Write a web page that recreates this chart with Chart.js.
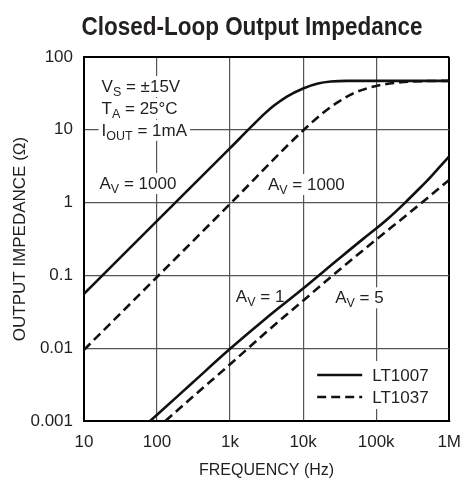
<!DOCTYPE html>
<html>
<head>
<meta charset="utf-8">
<script src="https://cdn.jsdelivr.net/npm/chart.js@4.4.0/dist/chart.umd.min.js"></script>
<style>
  html, body { margin: 0; padding: 0; background: #fff; }
</style>
</head>
<body>
<canvas id="zChart" width="472" height="481"></canvas>
<script>
// --- data ---
const xTickValues = [10, 100, 1000, 10000, 100000, 1000000];
const xTickLabels = ['10', '100', '1k', '10k', '100k', '1M'];
const yTickValues = [0.001, 0.01, 0.1, 1, 10, 100];
const yTickLabels = ['0.001', '0.01', '0.1', '1', '10', '100'];

// LT1007, Av = 1000 (solid)
const lt1007Av1000Freq = [10, 100, 1000, 2000, 3000, 4000, 6000, 10000, 16000, 24000, 40000, 100000, 1000000];
const lt1007Av1000Z = [0.056, 0.56, 5.6, 11.3, 16.8, 21.5, 28.6, 37, 43.3, 46, 47, 47, 47];
// LT1037, Av = 1000 (dashed)
const lt1037Av1000Freq = [10, 100, 1000, 10000, 20000, 30000, 50000, 100000, 200000, 500000, 1000000];
const lt1037Av1000Z = [0.0095, 0.095, 0.96, 9.8, 18, 24, 32, 40, 44.5, 46.7, 47];
// LT1007, Av = 1 (solid)
const lt1007Av1Freq = [80, 100, 300, 1000, 3000, 10000, 30000, 67000, 100000, 150000, 250000, 350000, 500000, 700000, 1000000];
const lt1007Av1Z = [0.001, 0.00122, 0.0033, 0.0098, 0.025, 0.066, 0.165, 0.32, 0.44, 0.62, 1.0, 1.4, 2.0, 2.9, 4.3];
// LT1037, Av = 5 (dashed)
const lt1037Av5Freq = [130, 300, 1000, 3000, 10000, 30000, 100000, 250000, 500000, 1000000];
const lt1037Av5Z = [0.001, 0.0021, 0.006, 0.016, 0.045, 0.115, 0.31, 0.65, 1.15, 2.05];

// annotation text, anchored (left, middle) in data units
const noteTexts = ['V_{S} = ±15V', 'T_{A} = 25°C', 'I_{OUT} = 1mA', 'A_{V} = 1000', 'A_{V} = 1000', 'A_{V} = 1', 'A_{V} = 5'];
const noteFreq = [17.4, 17.4, 17.4, 16.3, 3300, 1200, 27500];
const noteZ = [40, 20, 10, 1.86, 1.8, 0.052, 0.05];

const legendLabels = ['LT1007', 'LT1037'];

const INK = '#231f20';
const GRID = '#555';
const FONT = '"Liberation Sans", Arial, sans-serif';

function pts(fs, zs) {
    return fs.map((f, i) => ({ x: f, y: zs[i] }));
}

// splits 'V_{S} = x' into normal / subscript pieces
function pieces(txt) {
    const out = [];
    const re = /_\{([^}]*)\}/g;
    let last = 0, m;
    while ((m = re.exec(txt)) !== null) {
        if (m.index > last) out.push({ t: txt.slice(last, m.index), sub: false });
        out.push({ t: m[1], sub: true });
        last = re.lastIndex;
    }
    if (last < txt.length) out.push({ t: txt.slice(last), sub: false });
    return out;
}

function drawRichText(ctx, txt, x, cy) {
    const parts = pieces(txt);
    const mainFont = '17px ' + FONT;
    const subFont = '12.5px ' + FONT;
    let w = 0;
    parts.forEach(p => { ctx.font = p.sub ? subFont : mainFont; p.w = ctx.measureText(p.t).width; w += p.w; });
    ctx.fillStyle = '#fff';
    ctx.fillRect(x - 3, cy - 10, w + 6, 21);
    ctx.fillStyle = INK;
    ctx.textBaseline = 'alphabetic';
    ctx.textAlign = 'left';
    const base = cy + 6;
    let cx = x;
    parts.forEach(p => {
        ctx.font = p.sub ? subFont : mainFont;
        ctx.fillText(p.t, cx, p.sub ? base + 4 : base);
        cx += p.w;
    });
}

const notesPlugin = {
    id: 'notes',
    beforeDatasetsDraw(chart) {
        const { ctx, scales: { x, y } } = chart;
        ctx.save();
        noteTexts.forEach((t, i) => {
            drawRichText(ctx, t, x.getPixelForValue(noteFreq[i]), y.getPixelForValue(noteZ[i]));
        });
        // legend box
        const a = chart.chartArea;
        ctx.fillStyle = '#fff';
        ctx.fillRect(a.right - 139, a.bottom - 60, 127, 48);
        ctx.strokeStyle = '#111';
        ctx.lineWidth = 2.6;
        [[], [9, 5]].forEach((dash, i) => {
            const ly = a.bottom - 46 + i * 22;
            ctx.setLineDash(dash);
            ctx.beginPath();
            ctx.moveTo(a.right - 132, ly);
            ctx.lineTo(a.right - 87, ly);
            ctx.stroke();
            ctx.setLineDash([]);
            ctx.fillStyle = INK;
            ctx.font = '17px ' + FONT;
            ctx.textBaseline = 'middle';
            ctx.fillText(legendLabels[i], a.right - 77, ly + 1);
        });
        ctx.restore();
    },
    afterDraw(chart) {
        // condensed bold title, squeezed to the datasheet's width
        const ctx = chart.ctx;
        const title = 'Closed-Loop Output Impedance';
        ctx.save();
        ctx.fillStyle = INK;
        ctx.font = 'bold 25px ' + FONT;
        ctx.textAlign = 'center';
        ctx.textBaseline = 'middle';
        const sx = 341 / ctx.measureText(title).width;
        ctx.translate(252, 28);
        ctx.scale(sx, 1);
        ctx.fillText(title, 0, 0);
        ctx.restore();
    }
};

function edgeColor(limit) {
    return c => (c.tick && c.tick.value === limit) ? '#000' : GRID;
}
function edgeWidth(limit) {
    return c => (c.tick && c.tick.value === limit) ? 2 : 1.2;
}

const lineBase = { borderColor: '#111', borderWidth: 2.6, pointRadius: 0, tension: 0.4, cubicInterpolationMode: 'monotone', fill: false };

new Chart(document.getElementById('zChart').getContext('2d'), {
    type: 'line',
    data: {
        datasets: [
            Object.assign({ label: 'LT1007 Av=1000', data: pts(lt1007Av1000Freq, lt1007Av1000Z) }, lineBase),
            Object.assign({ label: 'LT1037 Av=1000', data: pts(lt1037Av1000Freq, lt1037Av1000Z), borderDash: [9, 5] }, lineBase),
            Object.assign({ label: 'LT1007 Av=1', data: pts(lt1007Av1Freq, lt1007Av1Z) }, lineBase),
            Object.assign({ label: 'LT1037 Av=5', data: pts(lt1037Av5Freq, lt1037Av5Z), borderDash: [9, 5] }, lineBase)
        ]
    },
    options: {
        responsive: false,
        animation: false,
        layout: { padding: { top: 57, right: 13, bottom: 0, left: 0 } },
        plugins: { legend: { display: false }, tooltip: { enabled: false } },
        scales: {
            x: {
                type: 'logarithmic',
                min: 10, max: 1000000,
                afterBuildTicks: ax => { ax.ticks = xTickValues.map(v => ({ value: v })); },
                afterFit: ax => { ax.height = 60; },
                ticks: {
                    autoSkip: false, maxRotation: 0, padding: 11, color: INK,
                    font: { family: FONT, size: 17 },
                    callback: (v, i) => xTickLabels[i]
                },
                grid: { drawTicks: false, color: edgeColor(1000000), lineWidth: edgeWidth(1000000) },
                border: { color: '#000', width: 2 },
                title: { display: true, text: 'FREQUENCY (Hz)', color: INK, font: { family: FONT, size: 16 }, padding: { top: 0, bottom: 1 } }
            },
            y: {
                type: 'logarithmic',
                min: 0.001, max: 100,
                afterBuildTicks: ax => { ax.ticks = yTickValues.map(v => ({ value: v })); },
                afterFit: ax => { ax.width = 84; },
                ticks: {
                    autoSkip: false, padding: 11, color: INK,
                    font: { family: FONT, size: 17 },
                    callback: (v, i) => yTickLabels[i]
                },
                grid: { drawTicks: false, color: edgeColor(100), lineWidth: edgeWidth(100) },
                border: { color: '#000', width: 2 },
                title: { display: true, text: 'OUTPUT IMPEDANCE (Ω)', color: INK, font: { family: FONT, size: 17 }, padding: { top: 10, bottom: 0 } }
            }
        }
    },
    plugins: [notesPlugin]
});
</script>
</body>
</html>
